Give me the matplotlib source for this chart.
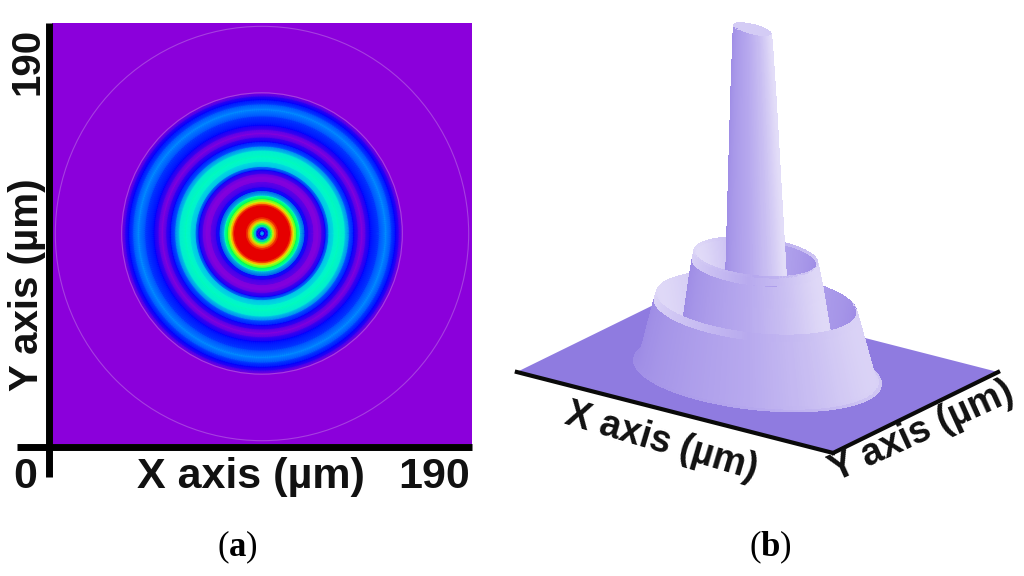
import matplotlib
matplotlib.use("Agg")
import matplotlib.pyplot as plt
import numpy as np
from matplotlib.colors import LinearSegmentedColormap
from mpl_toolkits.mplot3d.art3d import Poly3DCollection

plt.rcParams.update({
    "font.family": "Liberation Sans",
    "mathtext.fontset": "custom",
    "mathtext.rm": "Liberation Serif",
    "mathtext.bf": "Liberation Serif:bold",
})

# radial intensity of the top view
map_radius = [0, 0.9, 1.4, 2.0, 2.5, 3.2, 4.1, 5.0, 5.9, 6.8, 7.7, 10, 12.7, 13.6, 14.5, 15.8,
              17.2, 19.5, 21, 23.5, 25.5, 27, 28.8, 30.3, 32.6, 34.8, 37.5, 39.5, 41.6, 43.5,
              45.2, 47, 49, 53, 56, 58.5, 60.5, 62, 63.5, 100, 140]
map_value = [0.33, 0.27, 0.17, 0.08, 0.14, 0.30, 0.45, 0.62, 0.78, 0.90, 1.0, 1.0, 1.0, 0.82, 0.65, 0.50,
             0.36, 0.18, 0.12, 0.02, 0.0, 0.06, 0.17, 0.30, 0.35, 0.38, 0.34, 0.24, 0.17, 0.08,
             0.0, 0.08, 0.17, 0.22, 0.27, 0.22, 0.17, 0.10, 0.0, 0.0, 0.0]
faint_circles = [63.5, 93.5]

# height profile of the 3D view, same radii scale, height normalised to the tip
surf_radius = [0, 5, 8, 10, 10.5, 12, 14, 16, 17, 18, 19, 20.5, 23, 24, 26, 28, 30, 31.5, 32.5, 33,
               34, 36, 38, 40, 42, 44, 45.5, 47, 49, 51, 52.5, 53.5, 54.5, 56, 58, 60, 61.5, 63,
               64.5, 66]
surf_height = [0.96, 0.962, 0.968, 0.98, 0.955, 0.80, 0.55, 0.30, 0.15, 0.07, 0.035, 0.02, 0.015, 0.03,
               0.08, 0.16, 0.25, 0.30, 0.325, 0.33, 0.305, 0.245, 0.175, 0.105, 0.055, 0.02, 0.012, 0.03,
               0.07, 0.13, 0.18, 0.198, 0.18, 0.15, 0.11, 0.07, 0.04, 0.012, 0.002, 0.0]

extent = 190
box_lengths = (390, 281.6, 372)

rainbow = LinearSegmentedColormap.from_list("rainbow_map", [
    (0.0, "#8b00db"), (0.17, "#0000ff"), (0.27, "#0090ff"), (0.36, "#00ffd0"), (0.5, "#00ff40"),
    (0.67, "#ffff00"), (0.83, "#ff8000"), (1.0, "#e60000")])
lilac = LinearSegmentedColormap.from_list("lilac", ["#8f7be0", "#b7a9ee", "#f1eefb"])

fig = plt.figure(figsize=(10.24, 5.76), dpi=100)

# (a) top view
ax = fig.add_axes([52 / 1024, 132 / 576, 420 / 1024, 421 / 576])
theta = np.linspace(0, 2 * np.pi, 361)
rr, tt = np.meshgrid(map_radius, theta, indexing="ij")
vals = np.repeat(np.array(map_value)[:, None], len(theta), axis=1)
ax.pcolormesh(95 + rr * np.cos(tt), 95 + rr * np.sin(tt), vals, cmap=rainbow, vmin=0, vmax=1,
              shading="gouraud")
for rad in faint_circles:
    ax.add_patch(plt.Circle((95, 95), rad, fill=False, ec="#a63fe0", lw=0.8))
ax.set_xlim(0, extent)
ax.set_ylim(0, extent)
ax.axis("off")
ax.plot([-16, extent], [-1.2, -1.2], color="black", lw=5, clip_on=False, solid_capstyle="butt")
ax.plot([-1.2, -1.2], [-15, extent], color="black", lw=5, clip_on=False, solid_capstyle="butt")

label_font = dict(fontsize=31, fontweight="bold", color="#111111")
side_font = dict(fontsize=29, fontweight="bold", color="#111111")
ax.text(-12, -6, "0", ha="center", va="top", **label_font)
ax.text(extent - 1, -6, "190", ha="right", va="top", **label_font)
ax.text(90, -6, "X axis (µm)", ha="center", va="top", **label_font)
ax.text(-2.5, extent - 2, "190", ha="right", va="top", rotation=90, **side_font)
ax.text(-2.5, 72, "Y axis (µm)", ha="right", va="center", rotation=90, **side_font)

# (b) 3D view, orthographic so the floor stays a parallelogram
ax3 = fig.add_axes([454.2 / 1024, 74.7 / 576, 590.6 / 1024, 590.6 / 576], projection="3d",
                   proj_type="ortho", computed_zorder=False)
ax3.patch.set_alpha(0)
ax3.set_box_aspect(box_lengths)
ax3.view_init(elev=20.75, azim=-54.15)
ax3.set_xlim(0, extent)
ax3.set_ylim(0, extent)
ax3.set_zlim(0, 1)
ax3.set_axis_off()

floor = Poly3DCollection([[(0, 0, 0), (extent, 0, 0), (extent, extent, 0), (0, extent, 0)]],
                         facecolor="#8f7be0", edgecolor="none", zorder=1)
ax3.add_collection3d(floor)

phi = np.linspace(0, 2 * np.pi, 241)
rs, ps = np.meshgrid(surf_radius, phi, indexing="ij")
hs = np.repeat(np.array(surf_height)[:, None], len(phi), axis=1)
# the tip is cut at a slight slant, the tower leans a little to the left
hs = hs * (1 + 0.008 * np.cos(ps - 3.77) * (hs > 0.5))
X = 95 + rs * np.cos(ps) - 3 * hs
Y = 95 + rs * np.sin(ps)

# shade from the wall steepness, brighter towards the right
sx, sy, sz = box_lengths[0] / extent, box_lengths[1] / extent, box_lengths[2]
pts = np.stack([X * sx, Y * sy, hs * sz])
dr = np.gradient(pts, axis=1)
dp = np.gradient(pts, axis=2)
nrm = np.cross(dp, dr, axis=0)
nrm = nrm / (np.linalg.norm(nrm, axis=0) + 1e-9)
nrm = nrm * np.where(nrm[2] < 0, -1, 1)
side = nrm[0] * 0.82 + nrm[1] * 0.23
shade = (1 - np.abs(nrm[2]) ** 2) * (0.52 + 0.42 * side)
# rims are sharp, do not let the flat sample on top show up as a dark line
shade[1:-1] = np.maximum(shade[1:-1], np.maximum(shade[:-2], shade[2:]))
shade[rs < 10] = 0.75  # pale crater in the tip
ax3.plot_surface(X, Y, hs, facecolors=lilac(np.clip(shade, 0, 1)), rstride=1, cstride=1,
                 shade=False, linewidth=0, antialiased=False, zorder=2)

ax3.plot([0, extent], [0, 0], [0, 0], color="#0a0a0a", lw=3, zorder=3)
ax3.plot([extent, extent], [0, extent], [0, 0], color="#0a0a0a", lw=3, zorder=3)

fig.text(661 / 1024, 1 - 442 / 576, "X axis (µm)", ha="center", va="center", rotation=-16.5,
         rotation_mode="anchor", fontsize=27, fontweight="bold", color="#111111")
fig.text(922 / 1024, 1 - 432 / 576, "Y axis (µm)", ha="center", va="center", rotation=24.5,
         rotation_mode="anchor", fontsize=27, fontweight="bold", color="#111111")

# captions
fig.text(237 / 1024, 1 - 547 / 576, r"$\mathrm{(}\mathbf{a}\mathrm{)}$", ha="center", va="center",
         fontsize=25)
fig.text(770 / 1024, 1 - 547 / 576, r"$\mathrm{(}\mathbf{b}\mathrm{)}$", ha="center", va="center",
         fontsize=25)

fig.savefig("out.png", dpi=100)
